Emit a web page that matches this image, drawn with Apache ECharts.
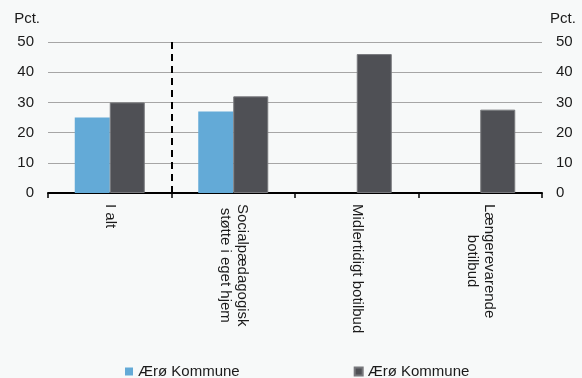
<!DOCTYPE html>
<html>
<head>
<meta charset="utf-8">
<script src="https://cdn.jsdelivr.net/npm/echarts@6/dist/echarts.min.js"></script>
<style>
html,body{margin:0;padding:0;background:#f7f9f9;}
#c{width:582px;height:378px;}
</style>
</head>
<body>
<div id="c"></div>
<script>
const categories = ['I alt', 'Socialpædagogisk\nstøtte i eget hjem', 'Midlertidigt botilbud', 'Længerevarende\nbotilbud'];
const seriesNames = ['Ærø Kommune', 'Ærø Kommune '];
const seriesA = [25, 27, null, null];
const seriesB = [30, 32, 46, 27.6];
const yTicks = { min: 0, max: 50, interval: 10 };
const dividerAt = [1];

const font = 'Arial, "Liberation Sans", sans-serif';
const fs = 15;
const lh = 17;
const txtColor = '#1a1a1a';
const baseMargin = 11;
const gridBase = { left: 48, right: 40, top: 42, bottom: 185 };
const ctx = document.createElement('canvas').getContext('2d');
ctx.font = fs + 'px ' + font;

const labelStyle = { interval: 0, rotate: -90, fontFamily: font, fontSize: fs, lineHeight: lh, color: txtColor };

// Multi-line category labels: every line is drawn by its own (invisible) category axis
// in a grid shifted sideways by one line height, so each line is centred on the longest one.
const grids = [Object.assign({}, gridBase)];
const gridByShift = {};
const extraX = [];
const extraY = [];
categories.forEach((c, ci) => {
  const lines = c.split('\n');
  if (lines.length < 2) return;
  const widths = lines.map(l => ctx.measureText(l).width);
  const W = Math.max(...widths);
  lines.forEach((l, li) => {
    const shift = ((lines.length - 1) / 2 - li) * lh;
    if (gridByShift[shift] === undefined) {
      gridByShift[shift] = grids.length;
      grids.push({ left: gridBase.left + shift, right: gridBase.right - shift, top: gridBase.top, bottom: gridBase.bottom });
      extraY.push({ type: 'value', gridIndex: gridByShift[shift], show: false });
    }
    extraX.push({
      type: 'category', gridIndex: gridByShift[shift], position: 'bottom', silent: true,
      data: categories.map((_, k) => (k === ci ? l : '')),
      axisLine: { show: false }, axisTick: { show: false }, splitLine: { show: false },
      axisLabel: Object.assign({}, labelStyle, { margin: baseMargin + (W - widths[li]) / 2 })
    });
  });
});

const chart = echarts.init(document.getElementById('c'), null, { renderer: 'canvas' });
chart.setOption({
  backgroundColor: '#f7f9f9',
  animation: false,
  grid: grids,
  legend: {
    data: seriesNames,
    left: 120, top: 359,
    itemWidth: 8, itemHeight: 8, itemGap: 114,
    icon: 'rect',
    formatter: n => n.trim(),
    textStyle: { fontFamily: font, fontSize: 15, color: txtColor }
  },
  xAxis: [{
    type: 'category', gridIndex: 0, position: 'bottom',
    data: categories,
    axisLine: { lineStyle: { color: '#000', width: 2 } },
    axisTick: { show: true, length: 5, lineStyle: { color: '#000', width: 1.5 } },
    axisLabel: Object.assign({}, labelStyle, { margin: baseMargin, formatter: v => (v.indexOf('\n') >= 0 ? '' : v) })
  }, {
    type: 'value', gridIndex: 0, min: 0, max: 4, show: false
  }].concat(extraX),
  yAxis: [{
    type: 'value', gridIndex: 0, ...yTicks,
    name: 'Pct.', nameLocation: 'end', nameGap: 16,
    nameTextStyle: { fontFamily: font, fontSize: 15, color: txtColor, align: 'right', padding: [0, 8, 0, 0] },
    axisLine: { show: false }, axisTick: { show: false },
    splitLine: { lineStyle: { color: '#a6a6a6', width: 1 } },
    axisLabel: { margin: 14, fontFamily: font, fontSize: 15, color: txtColor }
  }, {
    type: 'value', gridIndex: 0, ...yTicks, position: 'right',
    name: 'Pct.', nameLocation: 'end', nameGap: 16,
    nameTextStyle: { fontFamily: font, fontSize: 15, color: txtColor, align: 'left', padding: [0, 0, 0, 8] },
    axisLine: { show: false }, axisTick: { show: false },
    splitLine: { show: false },
    axisLabel: { margin: 14, fontFamily: font, fontSize: 15, color: txtColor }
  }].concat(extraY),
  series: [{
    name: seriesNames[0], type: 'bar', data: seriesA, xAxisIndex: 0, yAxisIndex: 0,
    barWidth: 35, barGap: '0%',
    itemStyle: { color: '#63aad7' }
  }, {
    name: seriesNames[1], type: 'bar', data: seriesB, xAxisIndex: 0, yAxisIndex: 0,
    barWidth: 35, barGap: '0%',
    itemStyle: { color: '#4f5055', borderColor: '#77787c', borderWidth: 1 }
  }, {
    type: 'line', xAxisIndex: 1, yAxisIndex: 0, data: [],
    markLine: {
      silent: true, symbol: 'none', label: { show: false },
      lineStyle: { color: '#000', type: [7, 5], width: 2 },
      data: dividerAt.map(v => ({ xAxis: v }))
    }
  }]
});
</script>
</body>
</html>
